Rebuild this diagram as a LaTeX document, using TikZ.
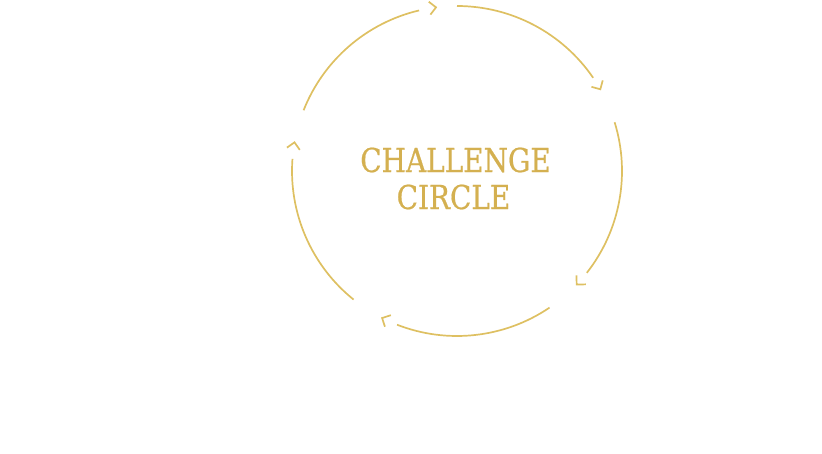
\documentclass[tikz,border=0pt]{standalone}
\usepackage{fontspec}
\newfontfamily\titlefont[FakeBold=0.6]{DejaVu Serif Condensed}
\definecolor{arcgold}{RGB}{222,192,98}
\definecolor{textgold}{RGB}{212,176,80}
\begin{document}
\begin{tikzpicture}[x=1pt,y=1pt,
  ring/.style={draw=arcgold,line width=1.7pt},
  chev/.style={draw=arcgold,line width=1.7pt,line join=miter},
  title/.style={text=textgold,font=\titlefont\fontsize{33}{37}\selectfont,anchor=base,inner sep=0pt}]
\useasboundingbox (0,0) rectangle (822,-453);
\coordinate (c) at (457,-171);
% arcs
\foreach \s/\e in {90/34.4, 17.2/-38.1, -55.9/-111.3, -128.8/-184.2, 158.4/103.3}{
  \draw[ring] ([shift={(\s:165)}]c) arc[start angle=\s,end angle=\e,radius=165];
}
% chevrons
\foreach \t in {29.7,-43.5,-117,-190,97.3}{
  \draw[chev,shift={(c)},rotate=\t] (171.5,6.5) -- (165,0) -- (158.5,6.5);
}
\node[title] (t1) at (455.5,-172) {\scalebox{0.94}[1]{CHALLENGE}};
\node[title] (t2) at (453.5,-209) {\scalebox{0.94}[1]{CIRCLE}};
\end{tikzpicture}
\end{document}
